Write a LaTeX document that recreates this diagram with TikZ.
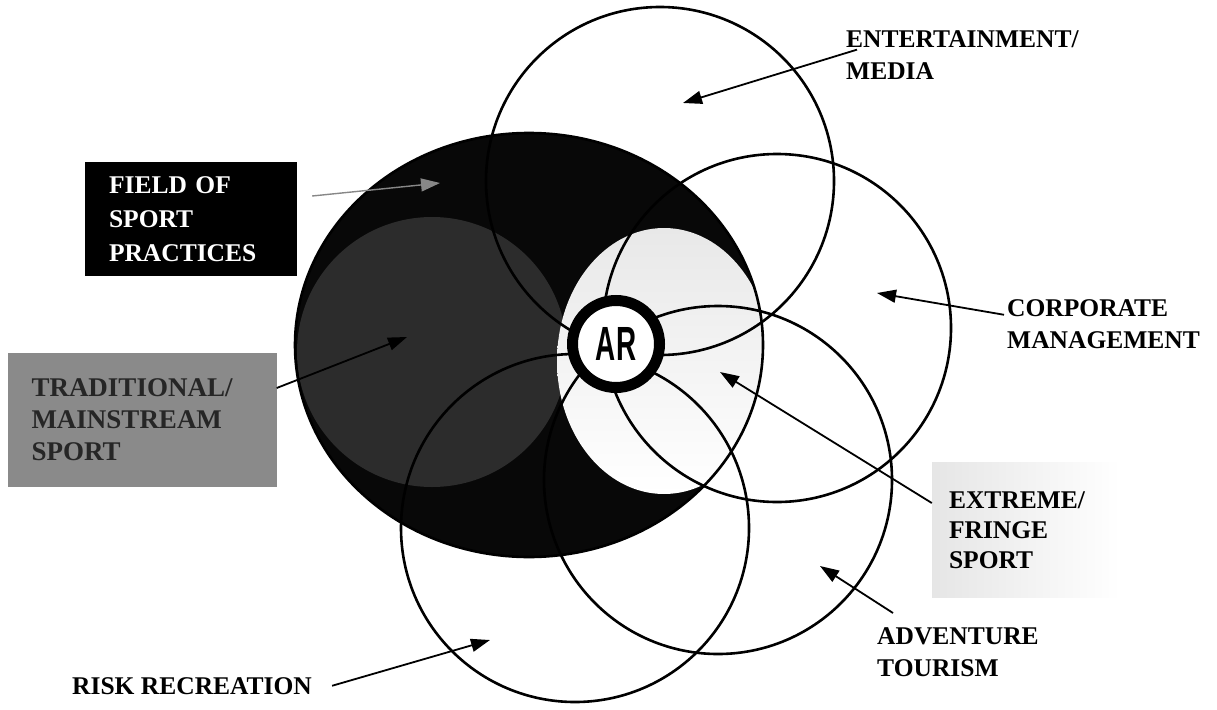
\documentclass[tikz,border=0pt]{standalone}
\usepackage{fontspec}
\setmainfont{Liberation Serif}
\newfontfamily\arfont{Liberation Sans}
\usetikzlibrary{arrows.meta}
\definecolor{fieldblack}{RGB}{8,8,8}
\definecolor{tradgray}  {RGB}{44,44,44}
\definecolor{boxgray}   {RGB}{138,138,138}
\definecolor{pointgray} {RGB}{135,135,135}
\tikzset{
  zone/.style   ={draw=black, line width=2.6pt},
  lbl/.style    ={font=\fontsize{25.5}{32}\selectfont\bfseries, align=left,
                  inner sep=0pt, anchor=north west},
  fieldbox/.style={font=\fontsize{25.5}{34}\selectfont\bfseries, align=left,
                  fill=black, text=white, text width=164pt, inner xsep=24pt,
                  minimum height=114pt},
  tradbox/.style={font=\fontsize{27}{32}\selectfont\bfseries, align=left,
                  fill=boxgray, text=black!85, text width=221pt, inner xsep=24pt,
                  minimum height=134pt},
  extbox/.style ={font=\fontsize{25.5}{30}\selectfont\bfseries, align=left,
                  left color=gray!20, right color=white, text width=154pt,
                  inner xsep=17pt, minimum height=135pt},
  arr/.style    ={-{Triangle[length=19pt,width=13pt]}, line width=1.8pt},
  garr/.style   ={arr, draw=pointgray, line width=1.4pt},
}
\begin{document}
\begin{tikzpicture}[x=1pt,y=-1pt]
  \useasboundingbox (0,0) rectangle (1217,709);
  \coordinate (cField) at (529,345);
  \coordinate (cTrad)  at (432,352);
  \coordinate (cExt)   at (664,361);
  \coordinate (cEnt)   at (660,181);
  \coordinate (cCorp)  at (777,328);
  \coordinate (cAdv)   at (718,480);
  \coordinate (cRisk)  at (575,528);

  % field of sport practices, with the traditional and extreme parts
  \fill[fieldblack] (cField) ellipse [x radius=234, y radius=212];
  \begin{scope}
    \clip (cField) ellipse [x radius=234, y radius=212];
    \fill[tradgray] (cTrad) circle [radius=135];
    \fill[top color=gray!18, bottom color=white] (cExt) ellipse [x radius=107, y radius=133];
  \end{scope}
  \draw[zone] (cField) ellipse [x radius=234, y radius=212];

  % the four outlined fields
  \foreach \c in {cEnt,cCorp,cAdv,cRisk}
    \draw[zone] (\c) circle [radius=174];

  \node[circle, draw, line width=11pt, fill=white, minimum size=87pt, inner sep=0pt,
        font=\arfont\bfseries\fontsize{48}{48}\selectfont] (ar) at (616,344)
        {\scalebox{0.58}[1]{AR}};

  % labels
  \node[fieldbox] (field) at (191,219) {FIELD OF\\SPORT\\PRACTICES};
  \node[tradbox]  (trad)  at (142,420) {TRADITIONAL/\\MAINSTREAM\\SPORT};
  \node[extbox]   (ext)   at (1026,530) {EXTREME/\\FRINGE\\SPORT};
  \node[lbl] (ent)  at (846,30)  {ENTERTAINMENT/\\MEDIA};
  \node[lbl] (corp) at (1007,299) {CORPORATE\\MANAGEMENT};
  \node[lbl] (adv)  at (877,627) {ADVENTURE\\TOURISM};
  \node[lbl] (risk) at (72,677)  {RISK RECREATION};

  \coordinate (tipField) at (440,183);
  \coordinate (tipTrad)  at (407,337);
  \coordinate (tipEnt)   at (683,103);
  \coordinate (tipCorp)  at (877,293);
  \coordinate (tipExt)   at (720,372);
  \coordinate (tipAdv)   at (820,566);
  \coordinate (tipRisk)  at (490,640);

  \draw[garr] ([shift={(15pt,23pt)}]field.east) -- (tipField);
  \draw[arr] ([yshift=32pt]trad.east) -- (tipTrad);
  \draw[arr] ([shift={(11pt,5pt)}]ent.west) -- (tipEnt);
  \draw[arr] ([shift={(-3pt,9pt)}]corp.west) -- (tipCorp);
  \draw[arr] ([yshift=27pt]ext.west) -- (tipExt);
  \draw[arr] ([shift={(16pt,14pt)}]adv.north west) -- (tipAdv);
  \draw[arr] ([xshift=20pt]risk.east) -- (tipRisk);
\end{tikzpicture}
\end{document}
